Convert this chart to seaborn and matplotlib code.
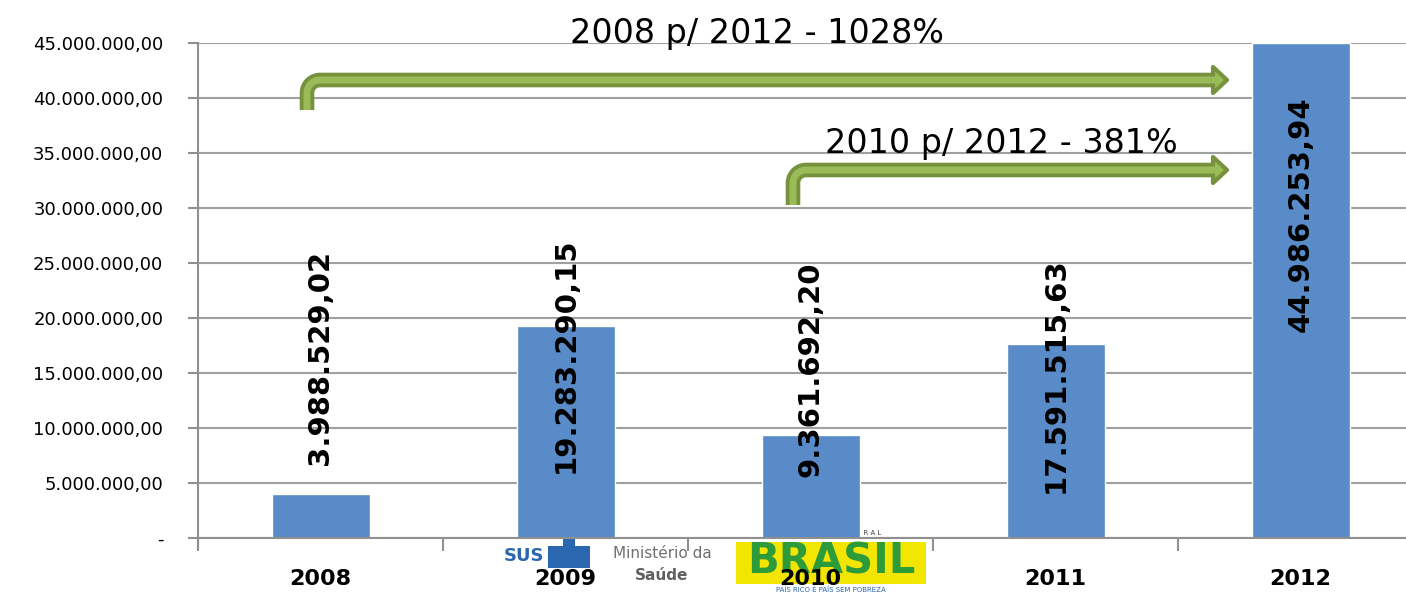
import numpy as np
import pandas as pd
import seaborn as sns
import matplotlib.pyplot as plt
from matplotlib.lines import Line2D
from matplotlib.patches import Polygon, Rectangle

anos = ["2008", "2009", "2010", "2011", "2012"]
valores = [3988529.02, 19283290.15, 9361692.20, 17591515.63, 44986253.94]
rotulos = ["3.988.529,02", "19.283.290,15", "9.361.692,20", "17.591.515,63", "44.986.253,94"]
yticks = np.arange(0, 45000001, 5000000)

W, H = 1406, 593
sns.set_style("white")
plt.rcParams["font.family"] = ["DejaVu Sans"]
plt.rcParams["text.color"] = "black"
plt.rcParams["xtick.color"] = "black"
plt.rcParams["ytick.color"] = "black"

df = pd.DataFrame({"ano": anos, "valor": valores})

fig = plt.figure(figsize=(W / 100, H / 100), dpi=100)
ax = fig.add_axes([198 / W, (H - 538) / H, 5 * 245 / W, 495 / H])
ax.set_zorder(1)
ax.patch.set_alpha(0)

sns.barplot(data=df, x="ano", y="valor", order=anos, color="#588BC8",
            width=0.4, saturation=1, ax=ax)

ax.set_xlim(-0.5, 4.5)
ax.set_ylim(0, 45000000)
ax.set_yticks(yticks)


def br(v):
    if v == 0:
        return "-"
    s = f"{v:,.2f}"
    return s.replace(",", "X").replace(".", ",").replace("X", ".")


ax.set_yticklabels([br(v) for v in yticks])
ax.yaxis.grid(True, color="#A0A0A0", linewidth=1.5)
ax.set_axisbelow(True)
for s in ["top", "right"]:
    ax.spines[s].set_visible(False)
ax.spines["left"].set_color("#909090")
ax.spines["left"].set_linewidth(1.5)
ax.spines["left"].set_bounds(-0.02e6 - 900000, 45000000)
ax.spines["bottom"].set_color("#909090")
ax.spines["bottom"].set_linewidth(1.5)

ax.set_xticks(np.arange(-0.5, 5, 1), minor=True)
ax.tick_params(axis="x", which="major", length=0, pad=22, labelsize=16)
ax.tick_params(axis="x", which="minor", bottom=True, length=9, width=1.5,
               color="#909090", direction="out")
ax.tick_params(axis="y", length=7, width=1.5, color="#909090", direction="out", left=True,
               pad=18, labelsize=13, labelcolor="black")
for lb in ax.get_xticklabels():
    lb.set_fontweight("bold")
    lb.set_color("black")
ax.set_xlabel("")
ax.set_ylabel("")

# rotulos das barras (posicao vertical manual, como no slide)
pos_rotulo = [16.4e6, 16.6e6, 15.3e6, 14.8e6, 29.4e6]
for i, (txt, yp) in enumerate(zip(rotulos, pos_rotulo)):
    ax.text(i, yp, txt, rotation=90, ha="center", va="center",
            fontsize=21, fontweight="bold", color="black")


# setas verdes
def fx(px):
    return px / W


def fy(py):
    return 1 - py / H


def seta(x0, yb, yh, xe, r=13):
    cx, cy = x0 + r, yh + r
    t = np.linspace(np.pi, 1.5 * np.pi, 20)
    xs = [x0] + list(cx + r * np.cos(t)) + [xe - 10]
    ys = [yb] + list(cy + r * np.sin(t)) + [yh]
    xs = [fx(v) for v in xs]
    ys = [fy(v) for v in ys]
    fig.add_artist(Line2D(xs, ys, transform=fig.transFigure, color="#76923C", zorder=2,
                          linewidth=10.5, solid_capstyle="butt", solid_joinstyle="round"))
    cab = Polygon([(fx(xe - 14), fy(yh - 13)), (fx(xe), fy(yh)), (fx(xe - 14), fy(yh + 13))],
                  closed=True, transform=fig.transFigure, facecolor="#9BBB59", zorder=2.1,
                  edgecolor="#76923C", linewidth=3, joinstyle="round")
    fig.add_artist(cab)
    fig.add_artist(Line2D(xs[:-1] + [fx(xe - 6)], ys, transform=fig.transFigure, color="#9BBB59",
                          linewidth=5, solid_capstyle="butt", solid_joinstyle="round", zorder=2.2))


seta(307, 110, 80, 1227)
seta(793, 205, 170, 1227)

fig.text(fx(757), fy(33), "2008 p/ 2012 - 1028%", ha="center", va="center", fontsize=24)
fig.text(fx(1001), fy(143), "2010 p/ 2012 - 381%", ha="center", va="center", fontsize=24)

# logos do rodape (aproximados), por baixo dos rotulos do eixo
fig.text(fx(524), fy(556), "SUS", ha="center", va="center", fontsize=13,
         fontweight="bold", color="#2B66B1", zorder=0.5)
fig.add_artist(Rectangle((fx(548), fy(568)), fx(42), 22 / H, transform=fig.transFigure,
                         facecolor="#2B66B1", edgecolor="none", zorder=0.4))
fig.add_artist(Rectangle((fx(563), fy(546)), fx(12), 8 / H, transform=fig.transFigure,
                         facecolor="#2B66B1", edgecolor="none", zorder=0.4))
fig.text(fx(662), fy(554), "Ministério da", ha="center", va="center", fontsize=11,
         color="#707070", zorder=0.5)
fig.text(fx(662), fy(576), "Saúde", ha="center", va="center", fontsize=11,
         fontweight="bold", color="#606060", zorder=0.5)
fig.add_artist(Rectangle((fx(736), fy(584)), fx(190), 42 / H, transform=fig.transFigure,
                         facecolor="#F2E500", edgecolor="none", zorder=0.4))
fig.text(fx(831), fy(562), "BRASIL", ha="center", va="center", fontsize=30,
         fontweight="heavy", color="#2E9B3A", zorder=0.5)
fig.text(fx(831), fy(533), "G O V E R N O   F E D E R A L", ha="center", va="center",
         fontsize=5, color="#404040", zorder=0.5)
fig.text(fx(831), fy(590), "PAÍS RICO É PAÍS SEM POBREZA", ha="center", va="center",
         fontsize=5, color="#2B66B1", zorder=0.5)

fig.savefig("out.png", dpi=100)
